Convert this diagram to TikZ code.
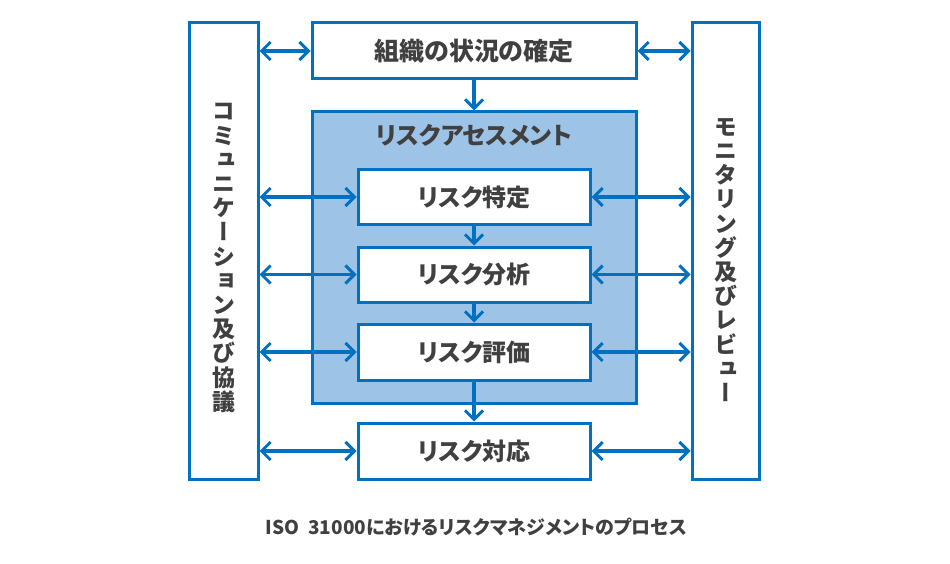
\documentclass[tikz,border=0pt]{standalone}
\usepackage{fontspec}
\setmainfont{Noto Sans CJK JP}[RawFeature=+palt]
\newfontfamily\tatefont{Noto Sans CJK JP}[RawFeature=+vert]
\usetikzlibrary{arrows.meta}
\definecolor{isoblue}{RGB}{0,112,192}
\definecolor{isofill}{RGB}{157,195,230}
\definecolor{isotext}{RGB}{64,64,64}

\begin{document}
\begin{tikzpicture}[x=1pt,y=-1pt,
  box/.style={draw=isoblue,line width=3pt,fill=white,text=isotext,inner sep=0pt,font=\bfseries\fontsize{24}{28}\selectfont},
  link/.style={draw=isoblue,line width=3.2pt,{Straight Barb[length=9pt,width=18pt,line width=3pt]}-{Straight Barb[length=9pt,width=18pt,line width=3pt]}},
  flow/.style={draw=isoblue,line width=3.2pt,-{Straight Barb[length=9pt,width=18pt,line width=3pt]}},
  tate/.style={text=isotext,align=center,inner sep=0pt,font=\tatefont\bfseries\fontsize{23}{24.2}\selectfont}]
\fill[white] (0,0) rectangle (950,564);
\useasboundingbox (0,0) rectangle (950,564);

% side boxes
\node[box,minimum width=69pt,minimum height=456pt] (comm) at (223.5,251) {};
\node[tate] (commtext) at (223.5,258) {コ\\ミ\\ュ\\ニ\\ケ\\ー\\シ\\ョ\\ン\\及\\び\\協\\議};
\node[box,minimum width=67pt,minimum height=456pt] (mon) at (725.5,251) {};
\node[tate] (montext) at (725.5,260) {モ\\ニ\\タ\\リ\\ン\\グ\\及\\び\\レ\\ビ\\ュ\\ー};

% middle column
\node[box,minimum width=324pt,minimum height=56pt,font=\bfseries\fontsize{25}{30}\selectfont] (ctx) at (474,51) {組織の状況の確定};
\node[box,fill=isofill,minimum width=324pt,minimum height=291pt] (assess) at (474,257.5) {};
\node[text=isotext,font=\bfseries\fontsize{24}{28}\selectfont] (assesslabel) at (474,135) {リスクアセスメント};
\node[box,minimum width=232pt,minimum height=54pt] (ident) at (474,197) {リスク特定};
\node[box,minimum width=232pt,minimum height=55pt] (anal) at (474,274.5) {リスク分析};
\node[box,minimum width=232pt,minimum height=56pt] (eval) at (474,352) {リスク評価};
\node[box,minimum width=232pt,minimum height=56pt] (treat) at (474,451) {リスク対応};

% connectors
\draw[link] (comm.east |- ctx.west) -- (ctx.west);
\draw[link] (ctx.east) -- (ctx.east -| mon.west);
\foreach \b in {ident,anal,eval,treat} {
  \draw[link] (comm.east |- \b.west) -- (\b.west);
  \draw[link] (\b.east) -- (\b.east -| mon.west);
}
\draw[flow] (ctx.south) -- (assess.north);
\draw[flow] (ident.south) -- (anal.north);
\draw[flow] (anal.south) -- (eval.north);
\draw[flow] (eval.south) -- (treat.north);

\node[text=isotext,font=\bfseries\fontsize{19}{23}\selectfont] (caption) at (476.5,527) {ISO\ \ 31000におけるリスクマネジメントのプロセス};
\end{tikzpicture}
\end{document}
